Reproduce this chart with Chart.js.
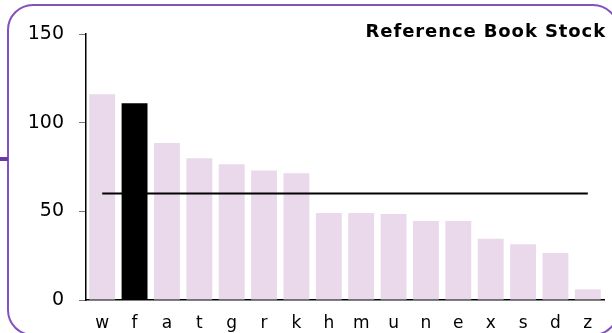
<!DOCTYPE html>
<html>
<head>
<meta charset="utf-8">
<script src="https://cdn.jsdelivr.net/npm/chart.js@4/dist/chart.umd.min.js"></script>
<style>
  html, body { margin: 0; padding: 0; background: #fff; }
  #wrap { position: relative; width: 612px; height: 333px; overflow: hidden; }
  #frame { position: absolute; left: 7px; top: 4px; width: 608px; height: 328px;
           border: 2px solid #8352bf; border-radius: 26px; }
  #tab { position: absolute; left: 0; top: 157px; width: 8px; height: 4px; background: #6c3aa6; }
  canvas { position: absolute; left: 0; top: 0; }
</style>
</head>
<body>
<div id="wrap">
  <div id="frame"></div>
  <div id="tab"></div>
  <canvas id="chart" width="612" height="333"></canvas>
</div>
<script>
var categories = ['w', 'f', 'a', 't', 'g', 'r', 'k', 'h', 'm', 'u', 'n', 'e', 'x', 's', 'd', 'z'];
var stock = [116, 111, 88.5, 80, 76.5, 73, 71.5, 49, 49, 48.5, 44.5, 44.5, 34.5, 31.5, 26.5, 6];
var average = [60, 60, 60, 60, 60, 60, 60, 60, 60, 60, 60, 60, 60, 60, 60, 60];
var highlight = 'f';
var yTicks = [0, 50, 100, 150];
var title = 'Reference Book Stock';

var barColors = categories.map(function (c) { return c === highlight ? '#000000' : '#ead9eb'; });

// title sits inside the plot, top right corner
var titlePlugin = {
  id: 'cornerTitle',
  afterDraw: function (chart) {
    var ctx = chart.ctx;
    ctx.save();
    ctx.font = 'bold 18px "DejaVu Sans"';
    ctx.letterSpacing = '0.9px';
    ctx.fillStyle = '#000';
    ctx.textAlign = 'right';
    ctx.textBaseline = 'middle';
    ctx.fillText(title, chart.chartArea.right + 2, 32);
    ctx.restore();
  }
};

new Chart(document.getElementById('chart').getContext('2d'), {
  data: {
    labels: categories,
    datasets: [{
      type: 'line',
      data: average,
      borderColor: '#000',
      borderWidth: 2,
      pointRadius: 0,
      order: 0
    }, {
      type: 'bar',
      data: stock,
      backgroundColor: barColors,
      categoryPercentage: 1,
      barPercentage: 0.8,
      order: 1
    }]
  },
  options: {
    responsive: false,
    animation: false,
    events: [],
    layout: { padding: { top: 34, right: 8, left: 0, bottom: 0 } },
    plugins: { legend: { display: false }, tooltip: { enabled: false } },
    scales: {
      x: {
        grid: { display: false, drawTicks: false },
        border: { color: '#000', width: 1.5 },
        ticks: { color: '#000', padding: 13, font: { family: 'DejaVu Sans', size: 17 } },
        afterFit: function (s) { s.height = 33; }
      },
      y: {
        min: 0,
        max: 150,
        afterBuildTicks: function (s) { s.ticks = yTicks.map(function (v) { return { value: v }; }); },
        grid: { drawOnChartArea: false, drawTicks: true, tickLength: 7, color: '#777' },
        border: { color: '#000', width: 1.5 },
        ticks: { color: '#000', padding: 15, font: { family: 'DejaVu Sans', size: 19 } },
        afterFit: function (s) { s.width = 86; }
      }
    }
  },
  plugins: [titlePlugin]
});
</script>
</body>
</html>
